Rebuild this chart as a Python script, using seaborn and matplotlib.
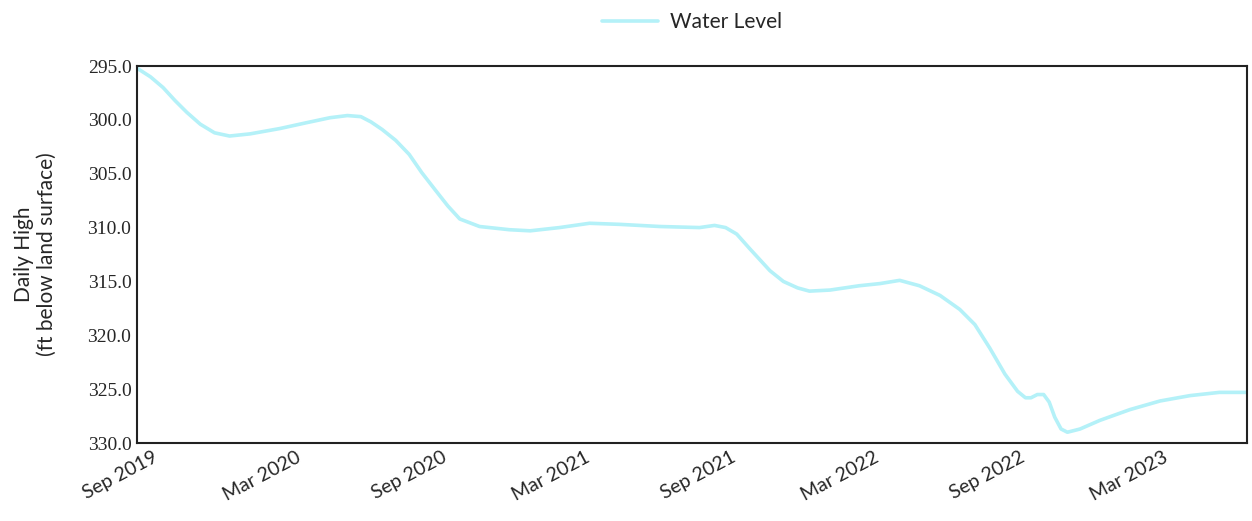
import pandas as pd
import numpy as np
import matplotlib
matplotlib.use('Agg')
import matplotlib.pyplot as plt
import matplotlib.dates as mdates
import seaborn as sns

# values
dates = ['2019-08-03', '2019-08-20', '2019-09-05', '2019-09-20', '2019-10-05', '2019-10-22',
         '2019-11-09', '2019-11-28', '2019-12-24', '2020-01-31', '2020-03-02', '2020-04-03',
         '2020-04-25', '2020-05-12', '2020-05-25', '2020-06-08', '2020-06-25', '2020-07-12',
         '2020-07-28', '2020-08-15', '2020-08-30', '2020-09-14', '2020-10-09', '2020-11-16',
         '2020-12-12', '2021-01-18', '2021-02-25', '2021-04-04', '2021-05-25', '2021-07-14',
         '2021-08-02', '2021-08-16', '2021-08-30', '2021-09-16', '2021-10-11', '2021-10-28',
         '2021-11-15', '2021-11-30', '2021-12-26', '2022-02-01', '2022-02-27', '2022-03-24',
         '2022-04-18', '2022-05-14', '2022-06-08', '2022-06-27', '2022-07-16', '2022-08-04',
         '2022-08-20', '2022-08-30', '2022-09-06', '2022-09-14', '2022-09-22', '2022-09-29',
         '2022-10-06', '2022-10-14', '2022-10-22', '2022-11-07', '2022-12-02', '2023-01-09',
         '2023-02-16', '2023-03-26', '2023-05-02', '2023-06-06']
water_level = [295.2, 296.0, 297.0, 298.2, 299.3, 300.4,
               301.2, 301.5, 301.3, 300.8, 300.3, 299.8,
               299.6, 299.7, 300.2, 300.9, 301.9, 303.2,
               304.9, 306.6, 308.0, 309.2, 309.9, 310.2,
               310.3, 310.0, 309.6, 309.7, 309.9, 310.0,
               309.8, 310.0, 310.6, 312.0, 314.0, 315.0,
               315.6, 315.9, 315.8, 315.4, 315.2, 314.9,
               315.4, 316.3, 317.6, 319.0, 321.2, 323.6,
               325.2, 325.8, 325.8, 325.5, 325.5, 326.2,
               327.6, 328.7, 329.0, 328.7, 327.9, 326.9,
               326.1, 325.6, 325.3, 325.3]
y_ticks = [295.0, 300.0, 305.0, 310.0, 315.0, 320.0, 325.0, 330.0]

df = pd.DataFrame({'Date': pd.to_datetime(dates), 'Water Level': water_level})

sns.set_style('white')
plt.rcParams['font.family'] = ['Lato', 'DejaVu Sans']

fig = plt.figure(figsize=(12.52, 5.21), dpi=100)
ax = fig.add_axes([0.1094, 0.1497, 0.8866, 0.7236])

sns.lineplot(data=df, x='Date', y='Water Level', ax=ax, color='#b4f1f8',
             linewidth=2.6, label='Water Level', solid_joinstyle='round',
             solid_capstyle='round')

ax.set_xlim(pd.Timestamp('2019-08-03'), pd.Timestamp('2023-06-06'))
ax.set_ylim(330, 295)
ax.set_yticks(y_ticks)
ax.set_yticklabels([f'{v:.1f}' for v in y_ticks], fontsize=14,
                   family='Liberation Serif')
ax.xaxis.set_major_locator(mdates.MonthLocator(bymonth=[3, 9]))
ax.xaxis.set_major_formatter(mdates.DateFormatter('%b %Y'))
plt.setp(ax.get_xticklabels(), rotation=28, ha='right', fontsize=14)
ax.tick_params(axis='both', length=0, pad=4)

ax.set_xlabel('')
ax.set_ylabel('Daily High\n(ft below land surface)', fontsize=15, labelpad=22)

for s in ax.spines.values():
    s.set_color('#222222')
    s.set_linewidth(1.5)

ax.legend(loc='lower center', bbox_to_anchor=(0.5, 1.04), frameon=False,
          fontsize=15, handlelength=2.7, handletextpad=0.6)

fig.savefig('out.png', dpi=100)
